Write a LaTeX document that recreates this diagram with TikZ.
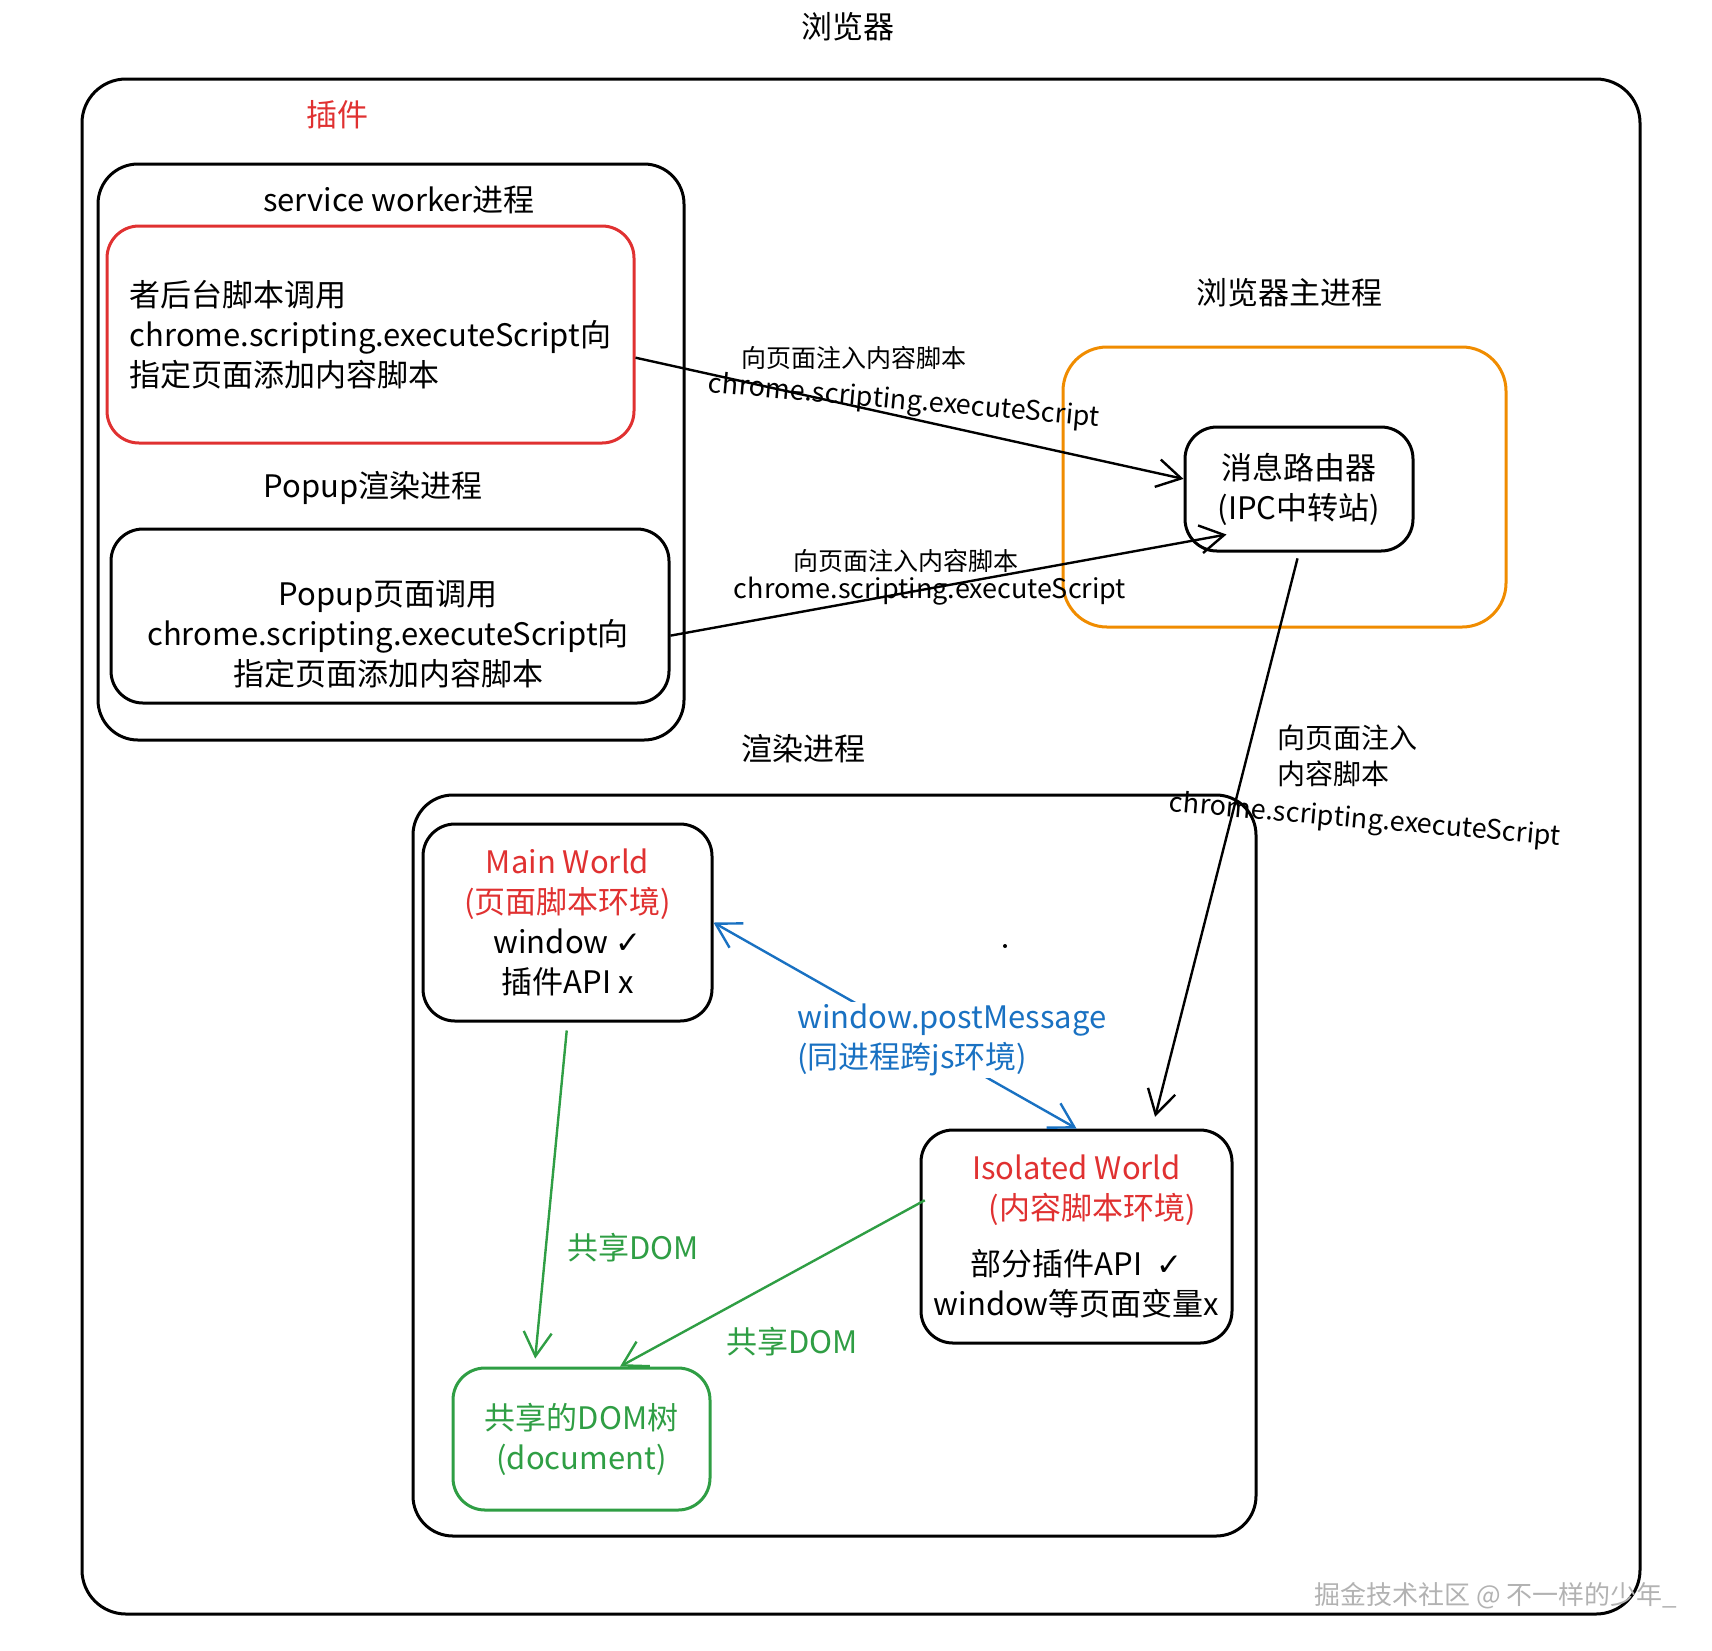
\documentclass[tikz,border=0pt]{standalone}
\usepackage{fontspec}
\setmainfont{Noto Sans CJK SC}
\newfontfamily\symf{DejaVu Sans}
\usetikzlibrary{arrows.meta}
\definecolor{xred}{HTML}{E03131}
\definecolor{xorange}{HTML}{F08C00}
\definecolor{xblue}{HTML}{1971C2}
\definecolor{xgreen}{HTML}{2F9E44}

\begin{document}
\begin{tikzpicture}[x=0.5pt, y=-0.5pt,
    font=\fontsize{15.5}{20}\selectfont,
    >={Straight Barb[length=12pt,width=14pt]},
    box/.style={draw, line width=1.5pt, rounded corners=16pt, align=center, inner sep=0pt},
    sml/.style={font=\fontsize{12.5}{16}\selectfont},
    cl/.style={font=\fontsize{13.5}{16}\selectfont},
    arr/.style={->, line width=1.2pt}]

  \useasboundingbox (0,0) rectangle (1712,1650);

  % frames
  \node (title) at (848,27) {浏览器};
  \node[box, rounded corners=22pt, minimum width=779pt, minimum height=767.5pt] (outer) at (861,846.5) {};
  \node[text=xred] (plugin) at (337,115) {插件};

  \node[box, rounded corners=20pt, minimum width=293pt, minimum height=288pt] (sw) at (391,452) {};
  \node (swt) at (399,200) {service worker进程};
  \node[box, draw=xred, align=left, minimum width=263.5pt, minimum height=108.5pt] (redbox) at (370.5,334.5)
    {者后台脚本调用\\chrome.scripting.executeScript向\\指定页面添加内容脚本};
  \node (popt) at (373,488) {Popup渲染进程};
  \node[box, minimum width=279pt, minimum height=87pt] (popup) at (390,616) {};
  \node[align=center] (popupt) at (388,634)
    {Popup页面调用\\chrome.scripting.executeScript向\\指定页面添加内容脚本};

  \node (maint) at (1289,293) {浏览器主进程};
  \node[box, draw=xorange, rounded corners=22pt, minimum width=221.5pt, minimum height=140pt] (orange) at (1284.5,487) {};
  \node[box, minimum width=114pt, minimum height=62pt] (router) at (1299,489) {消息路由器\\(IPC中转站)};

  \node (rendt) at (803,749) {渲染进程};
  \node[box, rounded corners=20pt, minimum width=421.5pt, minimum height=370.5pt] (render) at (834.5,1165.5) {};
  \node[box, minimum width=144.5pt, minimum height=98.5pt] (mainw) at (567.5,922.5)
    {\textcolor{xred}{Main World}\\\textcolor{xred}{(页面脚本环境)}\\window {\symf ✓}\\插件API x};
  \node[box, minimum width=155.5pt, minimum height=106.5pt] (iso) at (1076.5,1236.5)
    {\textcolor{xred}{Isolated World}\\\textcolor{xred}{\quad(内容脚本环境)}\\[8pt]部分插件API~~{\symf ✓}\\window等页面变量x};
  \node[box, draw=xgreen, text=xgreen, minimum width=128.5pt, minimum height=71pt] (shared) at (581.5,1439)
    {共享的DOM树\\(document)};
  \fill (1005,946) circle (1pt);

  % connectors
  \draw[arr] (redbox.-5) -- (router.175);
  \draw[arr] (popup.-4) -- ([shift={(43,-18)}]router.south west);
  \draw[arr, shorten <=3pt, shorten >=6pt] (router.south) -- (iso.55);
  \draw[arr, <->, xblue] (mainw.east) -- (iso.north);
  \draw[arr, xgreen, shorten <=4pt, shorten >=4pt] (mainw.south) -- (shared.123);
  \draw[arr, xgreen, shorten <=-3pt] (iso.168) -- (shared.62);

  % labels
  \node[sml] (lab1) at (854,358) {向页面注入内容脚本};
  \node[cl, rotate=-5] (call1) at (904,402) {chrome.scripting.executeScript};
  \node[sml] (lab2) at (906,561) {向页面注入内容脚本};
  \node[cl] (call2) at (930,591) {chrome.scripting.executeScript};
  \node[font=\fontsize{14}{18}\selectfont, align=left, anchor=west] (lab3) at (1270,756) {向页面注入\\内容脚本};
  \node[cl, rotate=-5] (call3) at (1365,821) {chrome.scripting.executeScript};
  \node[text=xblue, fill=white, inner sep=1pt, align=left, anchor=west] (pm) at (795,1040) {window.postMessage\\(同进程跨js环境)};
  \node[text=xgreen] (dom1) at (633,1248) {共享DOM};
  \node[text=xgreen] (dom2) at (792,1342) {共享DOM};
  \node[text=gray!60, font=\fontsize{13}{16}\selectfont] (wm) at (1496,1596) {掘金技术社区 @ 不一样的少年\_};

\end{tikzpicture}
\end{document}
